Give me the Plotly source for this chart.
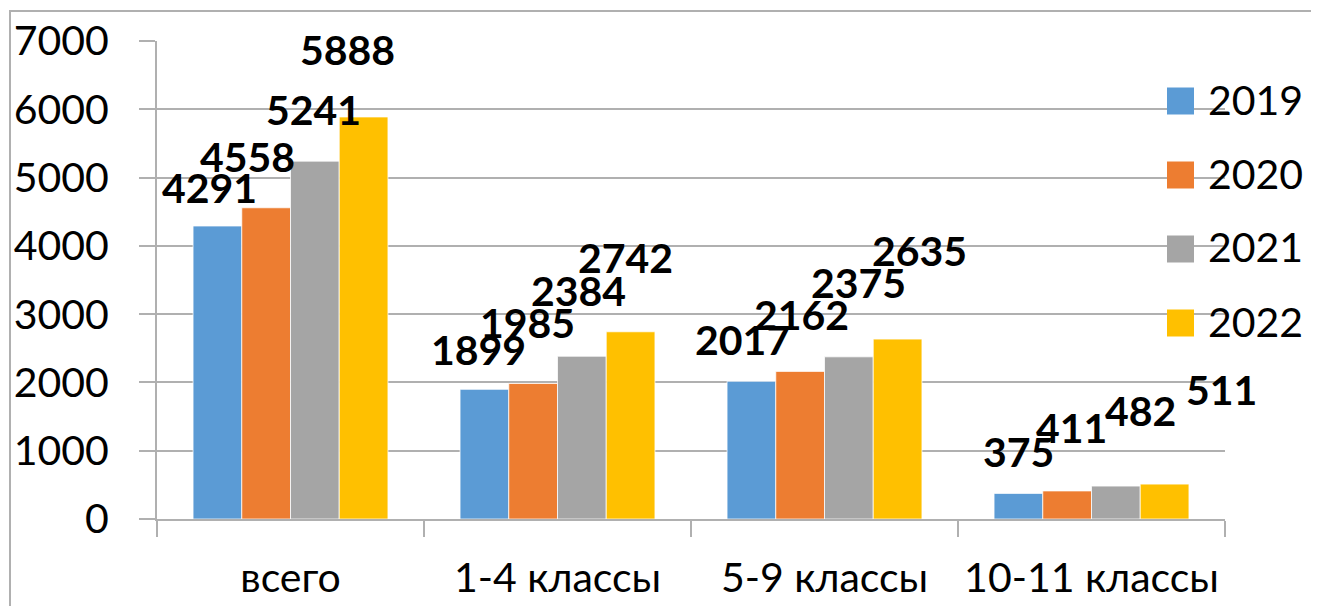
import plotly.graph_objects as go

categories = ["всего", "1-4 классы", "5-9 классы", "10-11 классы"]
years = ["2019", "2020", "2021", "2022"]
values_2019 = [4291, 1899, 2017, 375]
values_2020 = [4558, 1985, 2162, 411]
values_2021 = [5241, 2384, 2375, 482]
values_2022 = [5888, 2742, 2635, 511]
series = [values_2019, values_2020, values_2021, values_2022]
colors = ["#5B9BD5", "#ED7D31", "#A5A5A5", "#FFC000"]
y_ticks = [0, 1000, 2000, 3000, 4000, 5000, 6000, 7000]

# manual label offsets (pixels) relative to bar centre / top, per series per category
label_dx = [[-8, -6, -9, 0], [-19, -6, 1, 4], [-1, -3, 10, 25], [-16, -5, 22, 57]]
label_dy = [[39, 40, 42, 42], [51, 61, 57, 63], [52, 66, 74, 76], [67, 74, 89, 95]]

FONT = "Lato, 'Noto Sans', sans-serif"
OFF = 8  # page body margin of the html page
W, H = 1319 - OFF, 606 - OFF
# plot area in window pixels: x 157..1225, y 41..519
L, T = 157 - OFF, 41 - OFF
R, B = W - (1225 - OFF), H - (519 - OFF)
plot_w = W - L - R
plot_h = H - T - B
bargap = 0.27
bar_px = plot_w / len(categories) * (1 - bargap) / len(series)


def px_x(px):  # window pixel -> paper
    return (px - OFF - L) / plot_w


def px_y(py):
    return ((H - B) - (py - OFF)) / plot_h


fig = go.Figure()
for i, (name, vals, col) in enumerate(zip(years, series, colors)):
    fig.add_trace(go.Bar(x=categories, y=vals, name=name, marker_color=col,
                         marker_line=dict(color="white", width=0.75),
                         showlegend=False))

annotations = []
for i, vals in enumerate(series):
    for j, v in enumerate(vals):
        annotations.append(dict(
            x=categories[j], y=v, xref="x", yref="y", text=str(v),
            showarrow=False, xanchor="center", yanchor="middle",
            xshift=(i - 1.5) * bar_px + label_dx[i][j], yshift=label_dy[i][j],
            font=dict(family=FONT, size=41, color="black", weight="bold")))

grid_col = "#b0b0b0"
shapes = [dict(type="rect", xref="paper", yref="paper",
               x0=px_x(10), x1=px_x(1340), y0=px_y(640), y1=px_y(11),
               line=dict(color=grid_col, width=2), fillcolor="rgba(0,0,0,0)",
               layer="below")]

# legend drawn manually (large squares)
leg_row0, leg_step = 101, 74
for i, (name, col) in enumerate(zip(years, colors)):
    cy = leg_row0 + i * leg_step
    shapes.append(dict(type="rect", xref="paper", yref="paper",
                       x0=px_x(1167), x1=px_x(1194),
                       y0=px_y(cy + 13.5), y1=px_y(cy - 13.5),
                       line=dict(width=0), fillcolor=col, layer="above"))
    annotations.append(dict(x=px_x(1206), y=px_y(cy - 2), xref="paper", yref="paper",
                            text=name, showarrow=False, xanchor="left",
                            yanchor="middle", font=dict(family=FONT, size=41,
                                                        color="black")))

fig.update_layout(
    width=W, height=H,
    margin=dict(l=L, r=R, t=T, b=B, autoexpand=False),
    paper_bgcolor="white", plot_bgcolor="white",
    barmode="group", bargap=bargap, bargroupgap=0,
    font=dict(family=FONT, size=41, color="black"),
    annotations=annotations,
    shapes=shapes,
    showlegend=False,
    xaxis=dict(range=[-0.5, len(categories) - 0.5],
               showgrid=False, showline=True, linecolor=grid_col, linewidth=2,
               ticks="outside", tickson="boundaries", ticklen=16, tickwidth=2,
               tickcolor=grid_col, ticklabelstandoff=22, tickangle=0,
               automargin=False, tickfont=dict(size=41)),
    yaxis=dict(range=[0, 7000.5], tickvals=y_ticks, showgrid=True,
               gridcolor=grid_col, gridwidth=2, zeroline=False,
               showline=True, linecolor=grid_col, linewidth=2,
               ticks="outside", ticklen=16, tickwidth=2, tickcolor=grid_col,
               ticklabelstandoff=22, automargin=False, tickfont=dict(size=41)),
)
fig.write_html("out.html")
